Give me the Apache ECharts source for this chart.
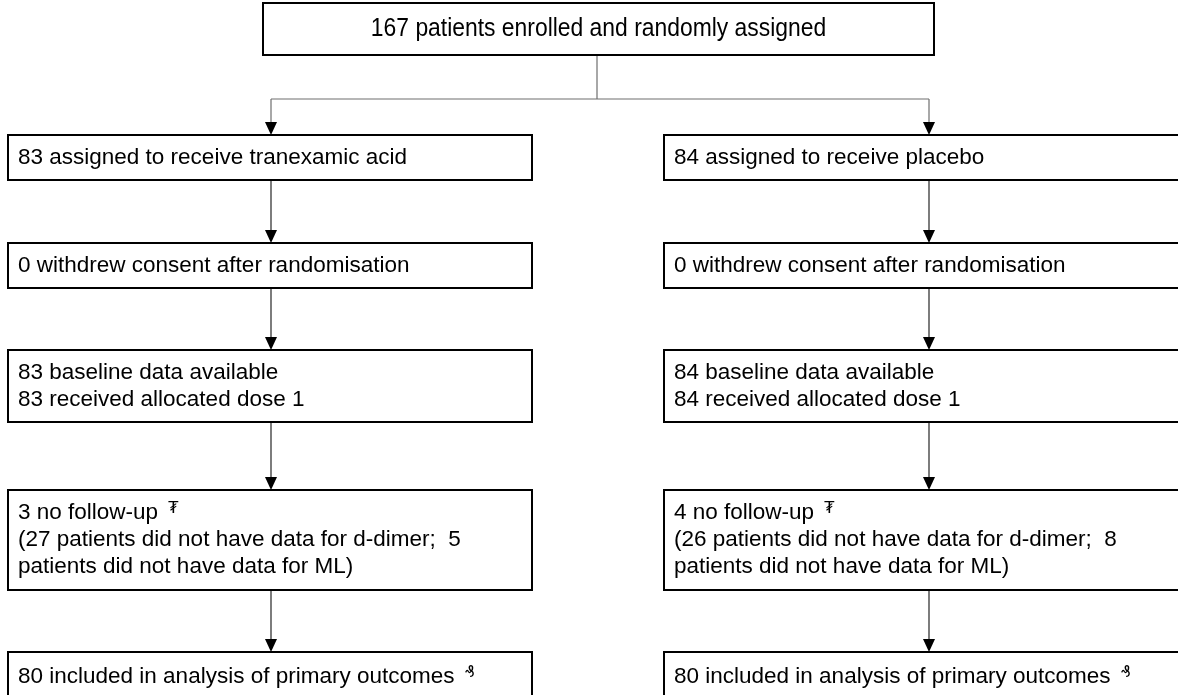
<!DOCTYPE html>
<html><head><meta charset="utf-8">
<script src="https://cdn.jsdelivr.net/npm/echarts@6/dist/echarts.min.js"></script>
<style>html,body{margin:0;padding:0;background:#fff}#c{width:1178px;height:695px}</style>
</head><body><div id="c"></div>
<script>
// ---- content ----
const titleText = '167 patients enrolled and randomly assigned';
const armLeft = [
  '83 assigned to receive tranexamic acid',
  '0 withdrew consent after randomisation',
  '83 baseline data available\n83 received allocated dose 1',
  '3 no follow-up\n(27 patients did not have data for d-dimer;  5\npatients did not have data for ML)',
  '80 included in analysis of primary outcomes'
];
const armRight = [
  '84 assigned to receive placebo',
  '0 withdrew consent after randomisation',
  '84 baseline data available\n84 received allocated dose 1',
  '4 no follow-up\n(26 patients did not have data for d-dimer;  8\npatients did not have data for ML)',
  '80 included in analysis of primary outcomes'
];
const footnoteMarks = [null, null, null, '\u20AE', '\u20B0'];

// ---- layout (pixel space of the hidden axes) ----
const W = 1178, H = 695;
const topBox = {x0: 263, x1: 934, y0: 3, y1: 55};
const cols = [{x0: 8, x1: 532, cx: 271}, {x0: 664, x1: 1194, cx: 929}];
const rows = [[135, 180], [243, 288], [350, 422], [490, 590], [652, 702]];
const branchY = 99, trunkX = 597;

const boxes = [{...topBox, text: titleText, center: true}];
[armLeft, armRight].forEach((arm, c) => arm.forEach((t, r) => {
  boxes.push({x0: cols[c].x0, x1: cols[c].x1, y0: rows[r][0], y1: rows[r][1], text: t, mark: footnoteMarks[r]});
}));

// connectors: [x1,y1,x2,y2,arrow,grey]
const links = [];
links.push([trunkX, topBox.y1, trunkX, branchY, 0, 1]);
links.push([cols[0].cx, branchY, cols[1].cx, branchY, 0, 1]);
cols.forEach(c => {
  links.push([c.cx, branchY, c.cx, rows[0][0], 1, 1]);
  for (let r = 0; r < rows.length - 1; r++) links.push([c.cx, rows[r][1], c.cx, rows[r + 1][0], 1, 0]);
});

function buildText(b) {
  const lines = b.text.split('\n');
  return lines.map((l, i) => {
    let s = '{n|' + l + '}';
    if (i === 0 && b.mark) s += '{s|  ' + b.mark + '}';
    return s;
  }).join('\n');
}

const chart = echarts.init(document.getElementById('c'), null, {renderer: 'canvas'});
chart.setOption({
  animation: false,
  grid: {left: 0, right: 0, top: 0, bottom: 0},
  xAxis: {type: 'value', min: 0, max: W, show: false},
  yAxis: {type: 'value', min: 0, max: H, inverse: true, show: false},
  series: [
    {
      type: 'custom', clip: false, z: 2,
      encode: {x: 1, y: 2},
      data: boxes.map((b, i) => [i, b.x0, b.y0]),
      renderItem(params, api) {
        const b = boxes[api.value(0)];
        const p0 = api.coord([b.x0, b.y0]), p1 = api.coord([b.x1, b.y1]);
        const cy = (p0[1] + p1[1]) / 2;
        const fam = '"Liberation Sans", Arial, sans-serif';
        return {
          type: 'group',
          children: [
            {type: 'rect', shape: {x: p0[0], y: p0[1], width: p1[0] - p0[0], height: p1[1] - p0[1]},
             style: {fill: '#fff', stroke: '#000', lineWidth: 2}},
            {type: 'text', x: b.center ? (p0[0] + p1[0]) / 2 : p0[0] + 10, y: cy,
             scaleX: b.center ? 0.915 : 1,
             style: {
               text: buildText(b),
               align: b.center ? 'center' : 'left', verticalAlign: 'middle',
               fill: '#000',
               rich: {
                 n: {fontSize: b.center ? 25 : 22.5, lineHeight: 27, fontFamily: fam, fill: '#000'},
                 s: {fontSize: 16, lineHeight: 27, fontFamily: 'DejaVu Sans', fill: '#000', padding: [0, 0, 8, 0]}
               }
             }}
          ]
        };
      }
    },
    {
      type: 'custom', clip: false, z: 1,
      encode: {x: 0, y: 1},
      data: links,
      renderItem(params, api) {
        const a = api.coord([api.value(0), api.value(1)]);
        const b = api.coord([api.value(2), api.value(3)]);
        const arrow = api.value(4), grey = api.value(5);
        const col = grey ? '#6e6e6e' : '#262626';
        const children = [{type: 'line', shape: {x1: a[0], y1: a[1], x2: b[0], y2: arrow ? b[1] - 12 : b[1]},
                           style: {stroke: col, lineWidth: 1.2}}];
        if (arrow) children.push({type: 'polygon', shape: {points: [[b[0] - 6, b[1] - 13], [b[0] + 6, b[1] - 13], [b[0], b[1]]]},
                                  style: {fill: '#000'}});
        return {type: 'group', children};
      }
    }
  ]
});
</script></body></html>
